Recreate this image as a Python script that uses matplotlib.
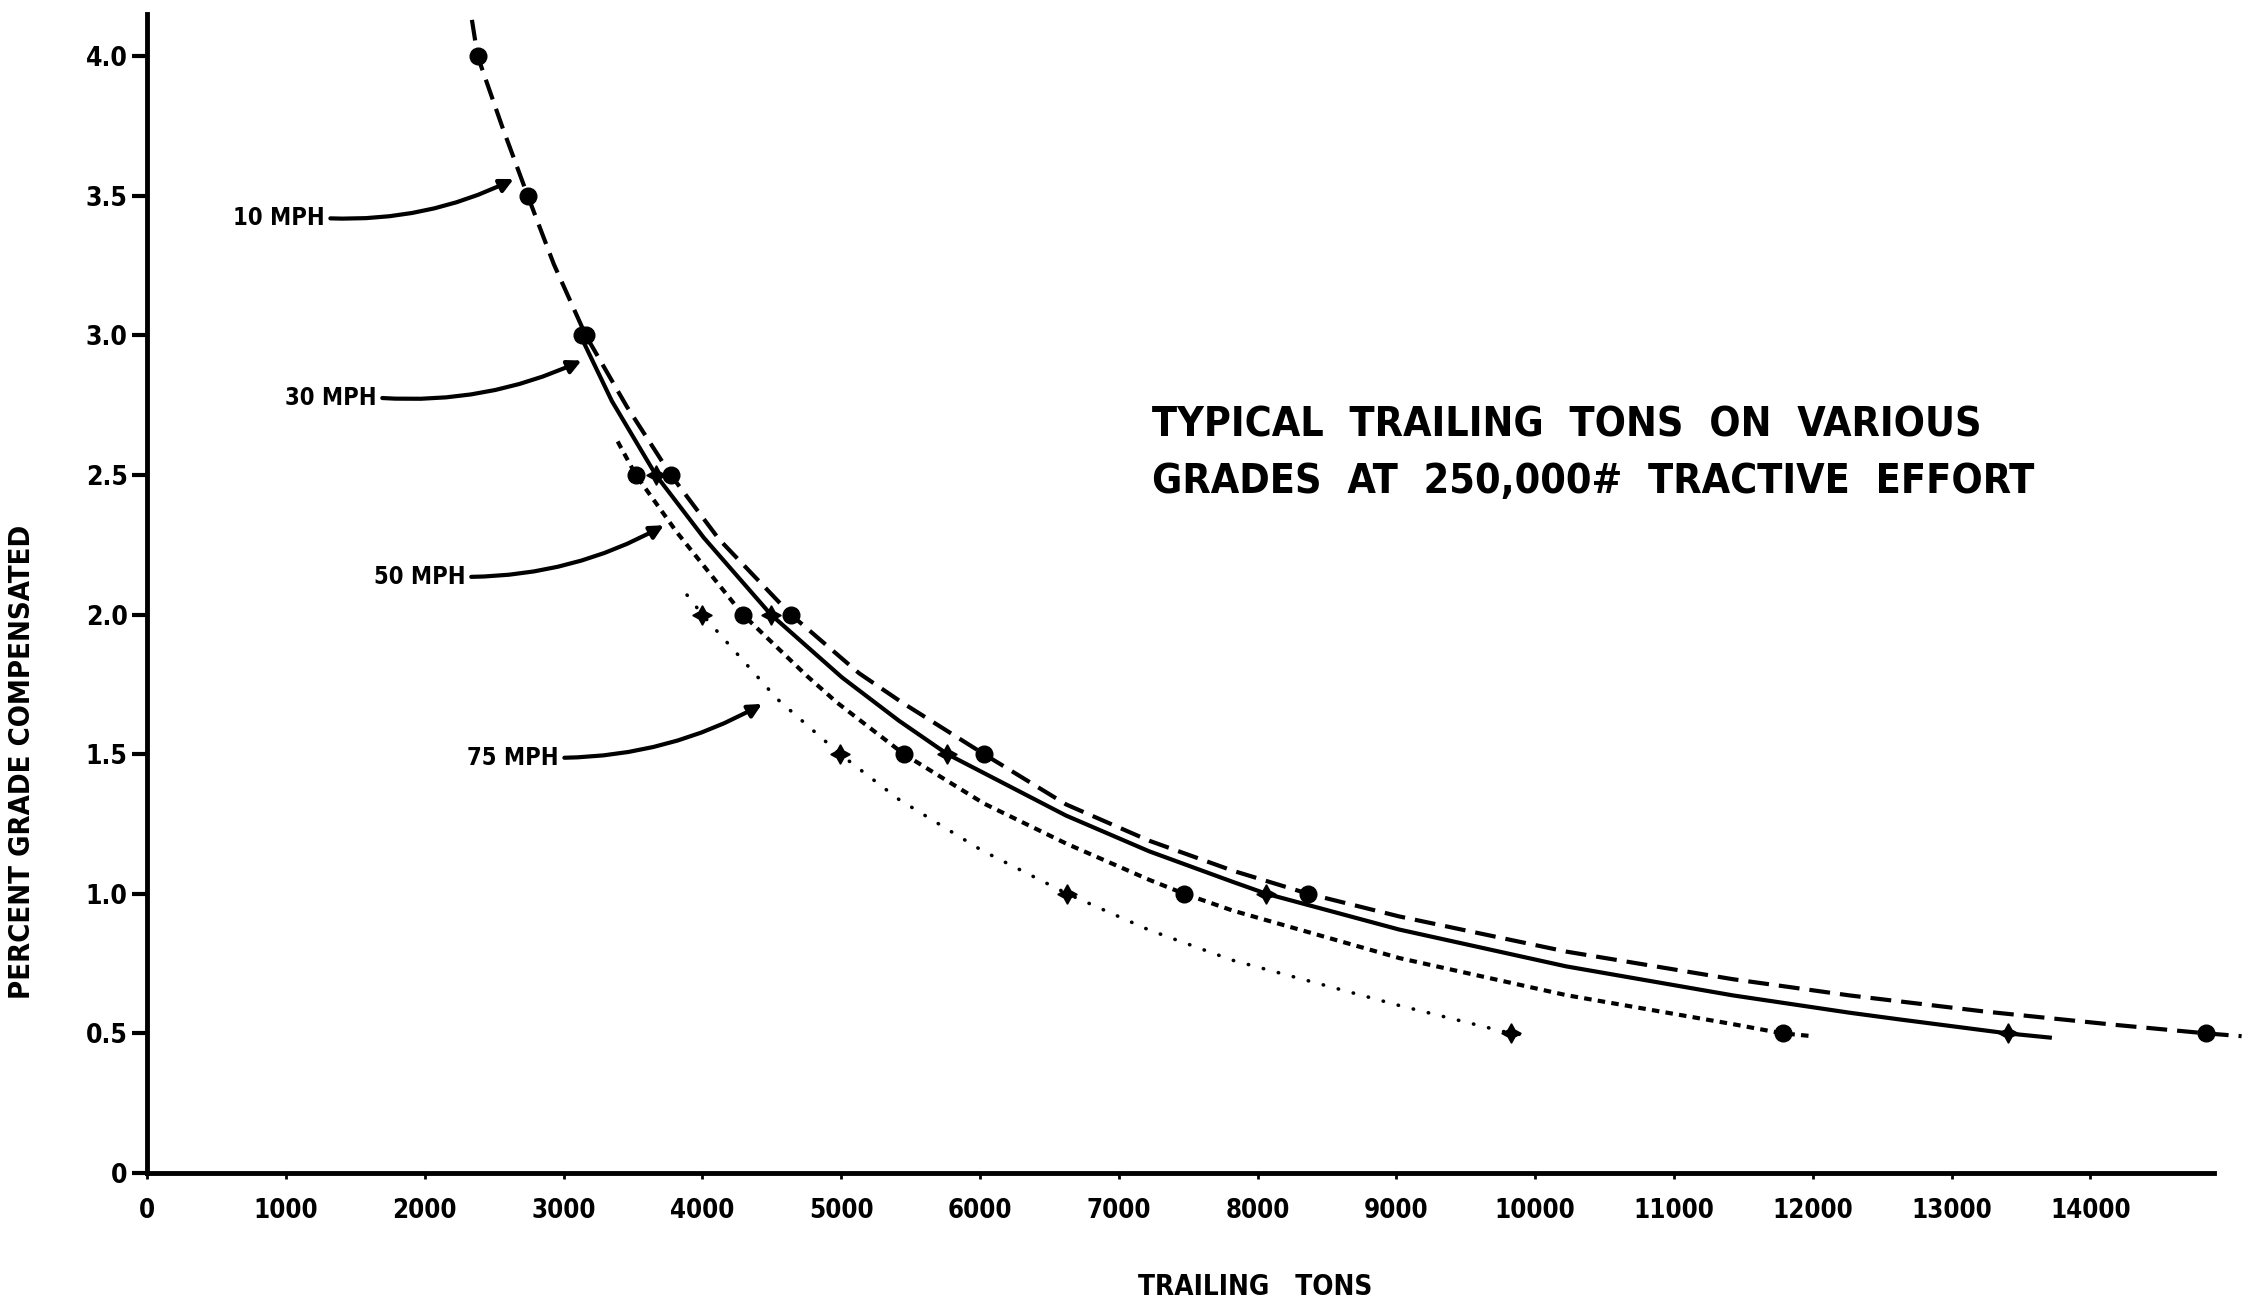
"""Typical trailing tons on various grades at 250,000 lb tractive effort."""

import matplotlib
matplotlib.use("Agg")
import matplotlib.pyplot as plt

# curves: (trailing tons, percent grade)
mph10_tons = [2340, 2381, 2560, 2742, 2930, 3160, 3456, 3773, 4120, 4638,
              5129, 5439, 6030, 6621, 7220, 7820, 8366, 9020, 10224, 11426,
              12266, 13226, 14190, 14837, 15090]
mph10_grade = [4.13, 4.0, 3.745, 3.5, 3.255, 3.0, 2.745, 2.5, 2.27, 2.0,
               1.79, 1.685, 1.5, 1.32, 1.19, 1.083, 1.0, 0.919, 0.793, 0.694,
               0.636, 0.579, 0.53, 0.5, 0.49]

mph30_tons = [3150, 3348, 3665, 4011, 4494, 5006, 5416, 5766, 6621, 7220,
              7820, 8064, 9020, 10224, 11426, 12266, 12626, 13405, 13708]
mph30_grade = [2.97, 2.765, 2.5, 2.275, 2.0, 1.775, 1.62, 1.5, 1.28, 1.152,
               1.043, 1.0, 0.872, 0.74, 0.636, 0.574, 0.55, 0.5, 0.485]

mph50_tons = [3390, 3521, 3816, 4292, 4754, 4970, 5453, 6030, 6621, 7220,
              7473, 7820, 9020, 10224, 11426, 11784, 12000]
mph50_grade = [2.62, 2.5, 2.295, 2.0, 1.78, 1.685, 1.5, 1.323, 1.18, 1.05,
               1.0, 0.94, 0.77, 0.637, 0.533, 0.5, 0.49]

mph75_tons = [3890, 4000, 4539, 4993, 5416, 6015, 6630, 7220, 7820, 9020,
              9826, 9935]
mph75_grade = [2.07, 2.0, 1.698, 1.5, 1.338, 1.155, 1.0, 0.87, 0.762, 0.6,
               0.5, 0.494]

# plotted points on each curve
dot_tons = [2381, 2742, 3130, 3165, 3773, 4638, 6030, 8366, 14837,
            3521, 4292, 5453, 7473, 11784]
dot_grade = [4.0, 3.5, 3.0, 3.0, 2.5, 2.0, 1.5, 1.0, 0.5,
             2.5, 2.0, 1.5, 1.0, 0.5]
cross_tons = [3665, 4494, 5766, 8064, 13405, 4000, 4993, 6630, 9826]
cross_grade = [2.5, 2.0, 1.5, 1.0, 0.5, 2.0, 1.5, 1.0, 0.5]

speed_labels = ["10 MPH", "30 MPH", "50 MPH", "75 MPH"]
label_at = [(1280, 3.42), (1654, 2.777), (2295, 2.135), (2966, 1.487)]
arrow_to = [(2641, 3.56), (3130, 2.91), (3723, 2.32), (4430, 1.68)]

x_ticks = list(range(0, 15000, 1000))
x_ticklabels = [str(v) for v in x_ticks]
y_ticks = [0, 0.5, 1.0, 1.5, 2.0, 2.5, 3.0, 3.5, 4.0]
y_ticklabels = ["0", "0.5", "1.0", "1.5", "2.0", "2.5", "3.0", "3.5", "4.0"]

TITLE = ["TYPICAL  TRAILING  TONS  ON  VARIOUS",
         "GRADES  AT  250,000#  TRACTIVE  EFFORT"]

FONT = dict(family="DejaVu Sans", weight="bold", stretch="condensed")


def main():
    fig = plt.figure(figsize=(22.43, 13.0), dpi=100)
    ax = fig.add_axes([0.0656, 0.0977, 0.9214, 0.8913])

    lw = 3.0
    ax.plot(mph10_tons, mph10_grade, color="black", lw=lw, ls=(0, (5, 2.4)),
            clip_on=False)
    ax.plot(mph30_tons, mph30_grade, color="black", lw=lw, ls="-")
    ax.plot(mph50_tons, mph50_grade, color="black", lw=lw, ls=(0, (1.8, 1.5)))
    ax.plot(mph75_tons, mph75_grade, color="black", lw=2.6,
            ls=(0, (0.1, 4.2)), dash_capstyle="round")

    ax.plot(dot_tons, dot_grade, "o", color="black", ms=12, clip_on=False)
    ax.plot(cross_tons, cross_grade, marker=(4, 1, 0), ls="none",
            color="black", ms=14)

    for text, xy_text, xy_end in zip(speed_labels, label_at, arrow_to):
        ax.annotate(text, xy=xy_end, xytext=xy_text, ha="right", va="center",
                    fontsize=17, **FONT,
                    arrowprops=dict(arrowstyle="-|>", color="black", lw=3,
                                    mutation_scale=20, relpos=(1, 0.5),
                                    shrinkA=2, shrinkB=0,
                                    connectionstyle="arc3,rad=0.13"))

    ax.text(0.486, 0.645, TITLE[0], transform=ax.transAxes, fontsize=29.5,
            va="center", ha="left", **FONT)
    ax.text(0.486, 0.596, TITLE[1], transform=ax.transAxes, fontsize=29.5,
            va="center", ha="left", **FONT)

    ax.set_xlim(0, 14890)
    ax.set_ylim(0, 4.15)
    ax.set_xticks(x_ticks)
    ax.set_xticklabels(x_ticklabels, fontsize=18.5, **FONT)
    ax.set_yticks(y_ticks)
    ax.set_yticklabels(y_ticklabels, fontsize=19, **FONT)
    ax.tick_params(axis="y", length=11, width=3, pad=3)
    ax.tick_params(axis="x", length=4, width=2, pad=14)

    ax.set_ylabel("PERCENT GRADE COMPENSATED", fontsize=21, **FONT)
    ax.yaxis.set_label_coords(-0.054, 0.355)
    ax.set_xlabel("TRAILING   TONS", fontsize=20, **FONT)
    ax.xaxis.set_label_coords(0.536, -0.086)

    for side in ("top", "right"):
        ax.spines[side].set_visible(False)
    for side in ("left", "bottom"):
        ax.spines[side].set_linewidth(3.5)

    fig.savefig("out.png", dpi=100, facecolor="white")


if __name__ == "__main__":
    main()
